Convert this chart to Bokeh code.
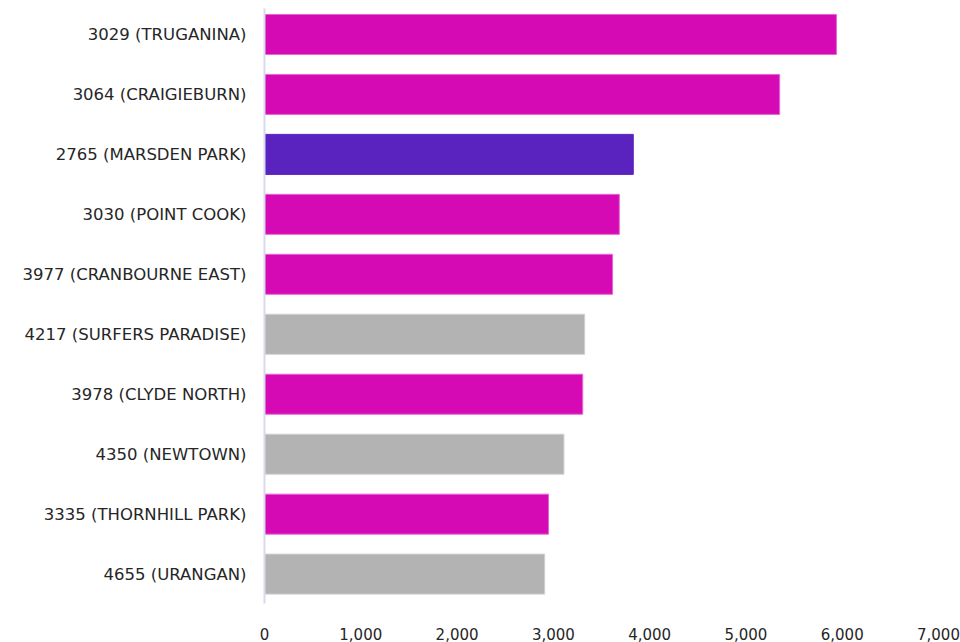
from bokeh.plotting import figure
from bokeh.models import Range1d, FixedTicker, NumeralTickFormatter, ColumnDataSource
from bokeh.embed import file_html
from bokeh.resources import INLINE

suburbs = ["3029 (TRUGANINA)", "3064 (CRAIGIEBURN)", "2765 (MARSDEN PARK)",
           "3030 (POINT COOK)", "3977 (CRANBOURNE EAST)", "4217 (SURFERS PARADISE)",
           "3978 (CLYDE NORTH)", "4350 (NEWTOWN)", "3335 (THORNHILL PARK)", "4655 (URANGAN)"]
values = [5940, 5350, 3830, 3685, 3615, 3325, 3305, 3110, 2950, 2910]
states = ["VIC", "VIC", "NSW", "VIC", "VIC", "QLD", "VIC", "QLD", "VIC", "QLD"]
x_ticks = [0, 1000, 2000, 3000, 4000, 5000, 6000, 7000]

state_colors = {"VIC": "#D60AB4", "NSW": "#5A22BE", "QLD": "#B3B3B3"}
line_colors = {"VIC": "#E865D2", "NSW": "#5A22BE", "QLD": "#D0D0D0"}

n = len(suburbs)
pos = [n - 1 - i for i in range(n)]
src = ColumnDataSource(dict(
    y=pos, v=values, name=suburbs,
    fill=[state_colors[s] for s in states],
    line=[line_colors[s] for s in states],
))

p = figure(width=960, height=642, output_backend="svg", toolbar_location=None,
           x_range=Range1d(0, 7000), y_range=Range1d(-0.49, 9.433),
           min_border_left=264, min_border_right=22, min_border_top=8, min_border_bottom=38)
p.hbar(y="y", right="v", left=0, height=0.667, source=src,
       fill_color="fill", line_color="line", line_width=1)

p.outline_line_color = None
p.grid.grid_line_color = None
p.background_fill_color = "white"
p.border_fill_color = "white"

font = "DejaVu Sans"
p.xaxis.ticker = FixedTicker(ticks=x_ticks)
p.xaxis.formatter = NumeralTickFormatter(format="0,0")
p.xaxis.axis_line_color = None
p.xaxis.major_tick_line_color = None
p.xaxis.minor_tick_line_color = None
p.xaxis.major_label_standoff = 18
p.xaxis.major_label_text_font = font
p.xaxis.major_label_text_font_size = "15px"
p.xaxis.major_label_text_color = "#262626"

p.yaxis.ticker = FixedTicker(ticks=pos)
p.yaxis.major_label_overrides = {pos[i]: suburbs[i] for i in range(n)}
p.yaxis.axis_line_color = "#D9D9F0"
p.yaxis.axis_line_width = 2
p.yaxis.major_tick_line_color = None
p.yaxis.minor_tick_line_color = None
p.yaxis.major_label_standoff = 12
p.yaxis.major_label_text_font = font
p.yaxis.major_label_text_font_size = "16.5px"
p.yaxis.major_label_text_color = "#262626"

open("out.html", "w").write(file_html(p, INLINE))
